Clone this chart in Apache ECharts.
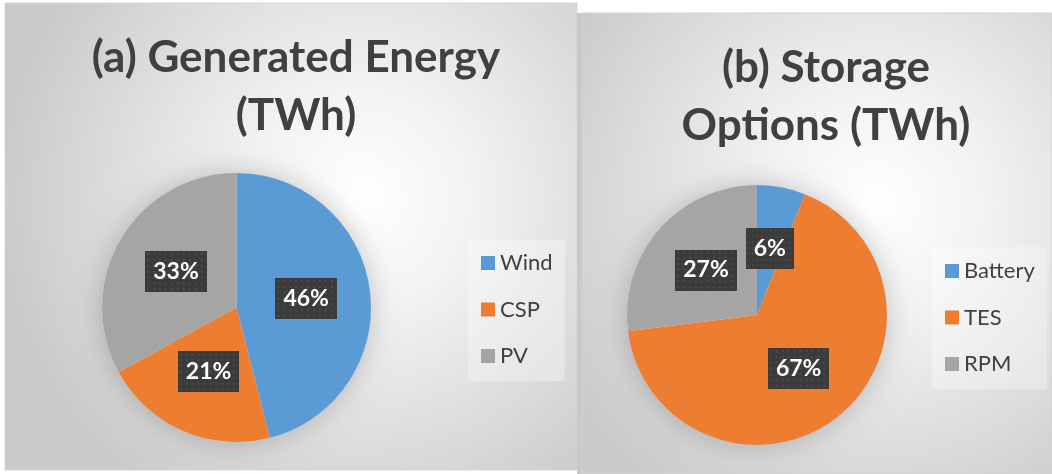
<!DOCTYPE html>
<html>
<head>
<meta charset="utf-8">
<script src="https://cdn.jsdelivr.net/npm/echarts@6/dist/echarts.min.js"></script>
<style>
html,body{margin:0;padding:0;background:#ffffff;}
#chart{width:1052px;height:474px;}
</style>
</head>
<body>
<div id="chart"></div>
<script>
// ---- data ----
var genCategories = ['Wind', 'CSP', 'PV'];
var genValues = [46, 21, 33];
var storCategories = ['Battery', 'TES', 'RPM'];
var storValues = [6, 67, 27];
var titleA = '(a) Generated Energy\n(TWh)';
var titleB = '(b) Storage\nOptions (TWh)';

var colors = ['#5B9BD5', '#ED7D31', '#A5A5A5'];
var FONT = 'Lato, "Open Sans", sans-serif';

function toData(cats, vals) {
  return cats.map(function (c, i) {
    return { name: c, value: vals[i], itemStyle: { color: colors[i] } };
  });
}

function bgGrad() {
  return {
    type: 'radial', x: 0.62, y: 0.42, r: 0.78,
    colorStops: [
      { offset: 0, color: '#ffffff' },
      { offset: 0.3, color: '#f3f3f3' },
      { offset: 1, color: '#c9c9c9' }
    ]
  };
}

// dotted dark texture for the data-label boxes
function dotTexture() {
  var c = document.createElement('canvas');
  c.width = 62; c.height = 42;
  var g = c.getContext('2d');
  g.fillStyle = '#3b3b3b';
  g.fillRect(0, 0, c.width, c.height);
  g.fillStyle = '#585858';
  for (var y = 2; y < c.height; y += 6) {
    for (var x = 2; x < c.width; x += 6) {
      g.fillRect(x, y, 1.5, 1.5);
    }
  }
  return c;
}
var tex = dotTexture();

var labelCfg = {
  show: true,
  position: 'inside',
  formatter: function (p) { return Math.round(p.percent) + '%'; },
  color: '#ffffff',
  fontFamily: FONT,
  fontWeight: 'bold',
  fontSize: 23,
  lineHeight: 24,
  backgroundColor: { image: tex },
  padding: [9, 8, 8, 8],
  shadowColor: 'rgba(0,0,0,0.45)',
  shadowBlur: 6,
  shadowOffsetX: 3,
  shadowOffsetY: 3
};

function haloSeries(center, radius) {
  return {
    type: 'pie', silent: true, z: 1,
    center: center, radius: radius,
    label: { show: false }, labelLine: { show: false },
    tooltip: { show: false },
    itemStyle: { color: '#e6e6e6', shadowBlur: 28, shadowColor: 'rgba(0,0,0,0.22)' },
    data: [{ name: '_halo', value: 1 }],
    legendHoverLink: false
  };
}

var legendText = { color: '#404040', fontFamily: FONT, fontSize: 22, lineHeight: 20 };
var titleText = { color: '#404040', fontFamily: FONT, fontWeight: 'bold', fontSize: 44, lineHeight: 58 };

var option = {
  animation: false,
  graphic: [
    { type: 'rect', z: -10, shape: { x: 5, y: 3, width: 572, height: 467 },
      style: { fill: bgGrad(), stroke: '#d6d6d6', lineWidth: 1 } },
    { type: 'rect', z: -10, shape: { x: 577, y: 13, width: 5, height: 461 },
      style: { fill: '#c8c8c8' } },
    { type: 'rect', z: -10, shape: { x: 582, y: 13, width: 470, height: 461 },
      style: { fill: bgGrad(), stroke: '#d2d2d2', lineWidth: 1 } }
  ],
  title: [
    { text: titleA, left: 291, top: 24, textAlign: 'center', textStyle: titleText },
    { text: titleB, left: 821, top: 34, textAlign: 'center', textStyle: titleText }
  ],
  legend: [
    { data: genCategories, orient: 'vertical', left: 468, top: 240,
      padding: [12, 12, 14, 13], backgroundColor: 'rgba(255,255,255,0.3)',
      icon: 'rect', itemWidth: 14, itemHeight: 14, itemGap: 24.5,
      textStyle: legendText, selectedMode: false },
    { data: storCategories, orient: 'vertical', left: 932, top: 247,
      padding: [13, 12, 14, 13], backgroundColor: 'rgba(255,255,255,0.3)',
      icon: 'rect', itemWidth: 14, itemHeight: 14, itemGap: 24.5,
      textStyle: legendText, selectedMode: false }
  ],
  series: [
    haloSeries([236.5, 307.5], 134.5),
    {
      type: 'pie', z: 2, center: [236.5, 307.5], radius: 134.5,
      startAngle: 90, clockwise: true,
      label: labelCfg, labelLine: { show: false },
      emphasis: { disabled: true },
      data: toData(genCategories, genValues)
    },
    haloSeries([757, 315], 130),
    {
      type: 'pie', z: 2, center: [757, 315], radius: 130,
      startAngle: 90, clockwise: true,
      label: labelCfg, labelLine: { show: false },
      emphasis: { disabled: true },
      data: toData(storCategories, storValues)
    }
  ]
};

var chart = echarts.init(document.getElementById('chart'), null, { renderer: 'canvas' });
chart.setOption(option);
</script>
</body>
</html>
